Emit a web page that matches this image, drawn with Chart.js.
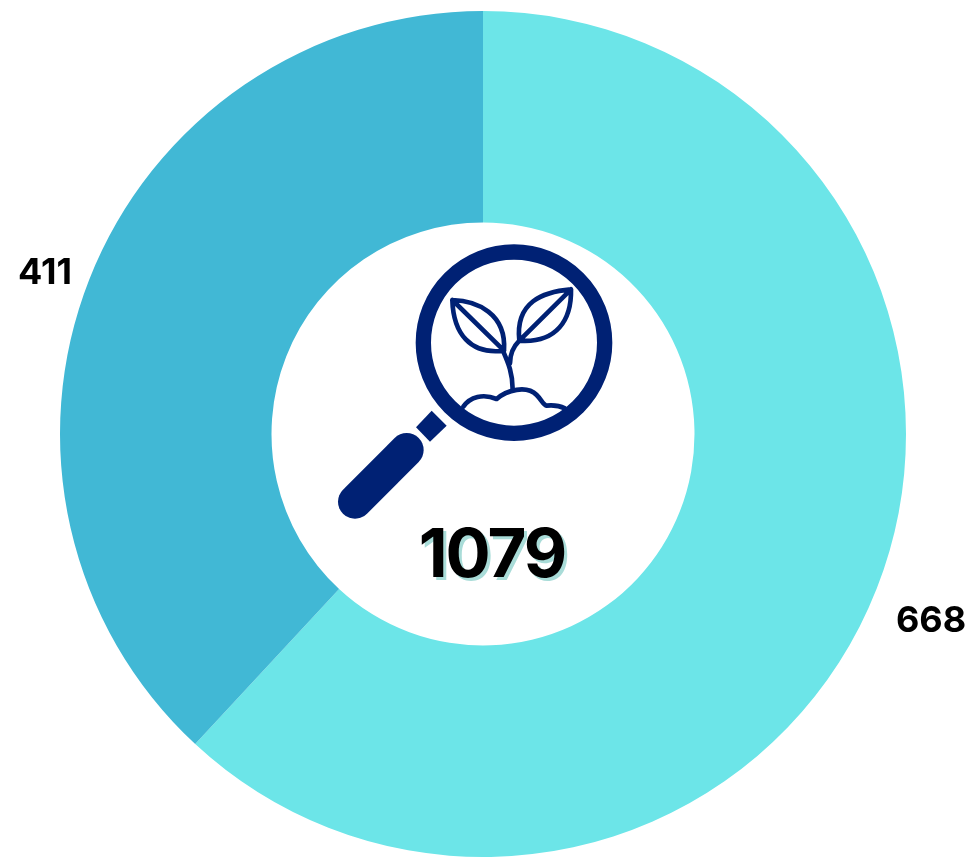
<!DOCTYPE html>
<html>
<head>
<meta charset="utf-8">
<style>
  html, body { margin: 0; background: #fff; }
  canvas { display: block; }
</style>
<script src="https://cdn.jsdelivr.net/npm/chart.js@4"></script>
</head>
<body>
<canvas id="donut" width="969" height="857"></canvas>
<script>
const categories = ['A', 'B'];
const values = [668, 411];
const sliceColors = ['#6CE5E8', '#41B8D5'];
const total = 1079;
const navy = '#002174';
const labelFont = '700 36px Inter, "Open Sans", sans-serif';

// slice values sit outside the ring, along each slice's middle angle
const sliceLabels = {
  id: 'sliceLabels',
  afterDatasetsDraw(chart) {
    const ctx = chart.ctx;
    ctx.save();
    ctx.font = labelFont;
    ctx.fillStyle = '#000';
    ctx.textAlign = 'center';
    ctx.textBaseline = 'middle';
    chart.getDatasetMeta(0).data.forEach((arc, i) => {
      const mid = (arc.startAngle + arc.endAngle) / 2;
      const r = arc.outerRadius + 53;
      ctx.fillText(values[i], arc.x + Math.cos(mid) * r + 5, arc.y + Math.sin(mid) * r + 13);
    });
    ctx.restore();
  }
};

// magnifying glass with seedling + total in the hole
const centerIcon = {
  id: 'centerIcon',
  afterDraw(chart) {
    const ctx = chart.ctx;
    const arc = chart.getDatasetMeta(0).data[0];
    const cx = arc.x, cy = arc.y;

    ctx.save();
    ctx.translate(cx - 153, cy - 204);
    ctx.scale(1 / 3, 1 / 3);
    ctx.strokeStyle = navy;
    ctx.fillStyle = navy;
    ctx.lineCap = 'round';
    ctx.lineJoin = 'round';

    // lens
    ctx.lineWidth = 46;
    ctx.beginPath();
    ctx.arc(552, 338, 272, 0, Math.PI * 2);
    ctx.stroke();

    // handle
    ctx.lineWidth = 102;
    ctx.beginPath();
    ctx.moveTo(75, 815);
    ctx.lineTo(230, 660);
    ctx.stroke();

    // collar
    ctx.beginPath();
    ctx.moveTo(305, 542);
    ctx.lineTo(350, 587);
    ctx.lineTo(300, 635);
    ctx.lineTo(258, 592);
    ctx.closePath();
    ctx.fill();

    // seedling
    ctx.lineWidth = 14;
    ctx.beginPath();
    ctx.moveTo(367, 210);
    ctx.bezierCurveTo(440, 212, 530, 250, 522, 362);
    ctx.bezierCurveTo(420, 375, 370, 310, 367, 210);
    ctx.closePath();
    ctx.moveTo(367, 210);
    ctx.lineTo(522, 362);
    ctx.moveTo(723, 178);
    ctx.bezierCurveTo(640, 185, 555, 215, 568, 332);
    ctx.bezierCurveTo(680, 340, 725, 270, 723, 178);
    ctx.closePath();
    ctx.moveTo(723, 178);
    ctx.lineTo(568, 332);
    ctx.moveTo(520, 365);
    ctx.bezierCurveTo(535, 400, 548, 430, 548, 478);
    ctx.moveTo(568, 332);
    ctx.bezierCurveTo(550, 350, 540, 370, 540, 400);
    ctx.stroke();

    // soil
    ctx.beginPath();
    ctx.moveTo(400, 530);
    ctx.bezierCurveTo(420, 500, 460, 490, 500, 507);
    ctx.bezierCurveTo(530, 480, 590, 465, 620, 495);
    ctx.bezierCurveTo(635, 510, 640, 525, 650, 527);
    ctx.bezierCurveTo(670, 525, 690, 528, 705, 535);
    ctx.stroke();
    ctx.restore();

    // total, with its offset teal shadow
    ctx.save();
    ctx.font = '700 67px Inter, "Open Sans", sans-serif';
    ctx.letterSpacing = '-2px';
    ctx.textAlign = 'center';
    ctx.textBaseline = 'middle';
    ctx.fillStyle = '#A9DCD8';
    ctx.fillText(total, cx + 12, cy + 126);
    ctx.fillStyle = '#000';
    ctx.fillText(total, cx + 9, cy + 123);
    ctx.restore();
  }
};

new Chart(document.getElementById('donut'), {
  type: 'doughnut',
  data: {
    labels: categories,
    datasets: [{
      data: values,
      backgroundColor: sliceColors,
      borderWidth: 0
    }]
  },
  options: {
    responsive: false,
    animation: false,
    radius: 423,
    cutout: '50%',
    layout: { padding: { top: 11, right: 3 } },
    plugins: {
      legend: { display: false },
      tooltip: { enabled: false }
    }
  },
  plugins: [sliceLabels, centerIcon]
});
</script>
</body>
</html>
